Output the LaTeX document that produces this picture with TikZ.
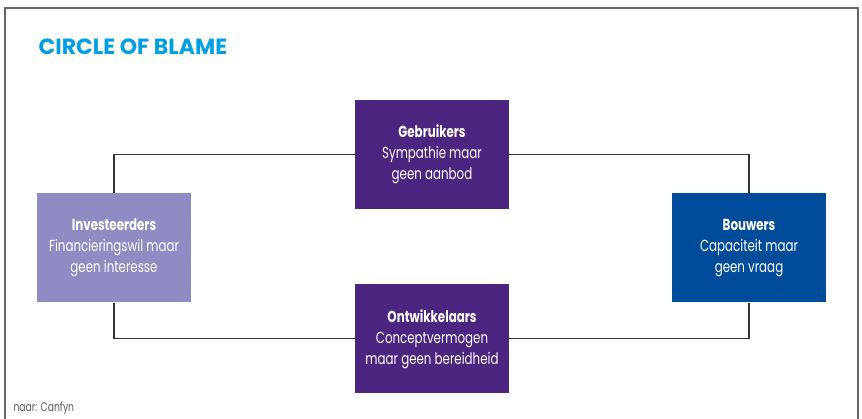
\documentclass[tikz,border=0pt]{standalone}
\usepackage{fontspec}
\setmainfont{Poppins}[FakeStretch=0.74]
\newfontfamily\titlefont{Poppins}
\usetikzlibrary{positioning}

\definecolor{blamecyan}{HTML}{009FE3}
\definecolor{deeppurple}{HTML}{4B2580}
\definecolor{palepurple}{HTML}{8F8BC3}
\definecolor{royalblue}{HTML}{004B9A}
\definecolor{framegray}{HTML}{666666}

\begin{document}
\begin{tikzpicture}
		[x=1pt,y=-1pt,
		party/.style={rectangle,fill=deeppurple,text=white,inner sep=0pt,
			minimum width=154pt,minimum height=109pt,align=center,
			font=\fontsize{16}{21}\selectfont},
		link/.style={draw=black!80,line width=1.1pt}]
		\useasboundingbox (0,0) rectangle (862,419);
		% open frame round the figure
		\draw [framegray,line width=1.5pt] (5,425) -- (5,8) -- (858,8) -- (858,425);
		\node [anchor=west,text=blamecyan,font=\titlefont\bfseries\fontsize{22}{22}\selectfont] (title) at (35,47) {CIRCLE OF BLAME};

		\node [party] (geb) at (432,154.5) {\textbf{Gebruikers}\\Sympathie maar\\geen aanbod};
		\node [party] (ontw) [below=75pt of geb] {\textbf{Ontwikkelaars}\\Conceptvermogen\\maar geen bereidheid};
		\node [party,fill=palepurple] (inv) at (114,248) {\textbf{Investeerders}\\Financieringswil maar\\geen interesse};
		\node [party,fill=royalblue] (bouw) at (749,248) {\textbf{Bouwers}\\Capaciteit maar\\geen vraag};

		\draw [link] (inv.north) |- (geb.west);
		\draw [link] (geb.east) -| (bouw.north);
		\draw [link] (inv.south) |- (ontw.west);
		\draw [link] (ontw.east) -| (bouw.south);

		\node [anchor=west,text=black!65,font=\fontsize{12.5}{14}\selectfont] (bron) at (10,408) {naar: Canfyn};
	\end{tikzpicture}
\end{document}
